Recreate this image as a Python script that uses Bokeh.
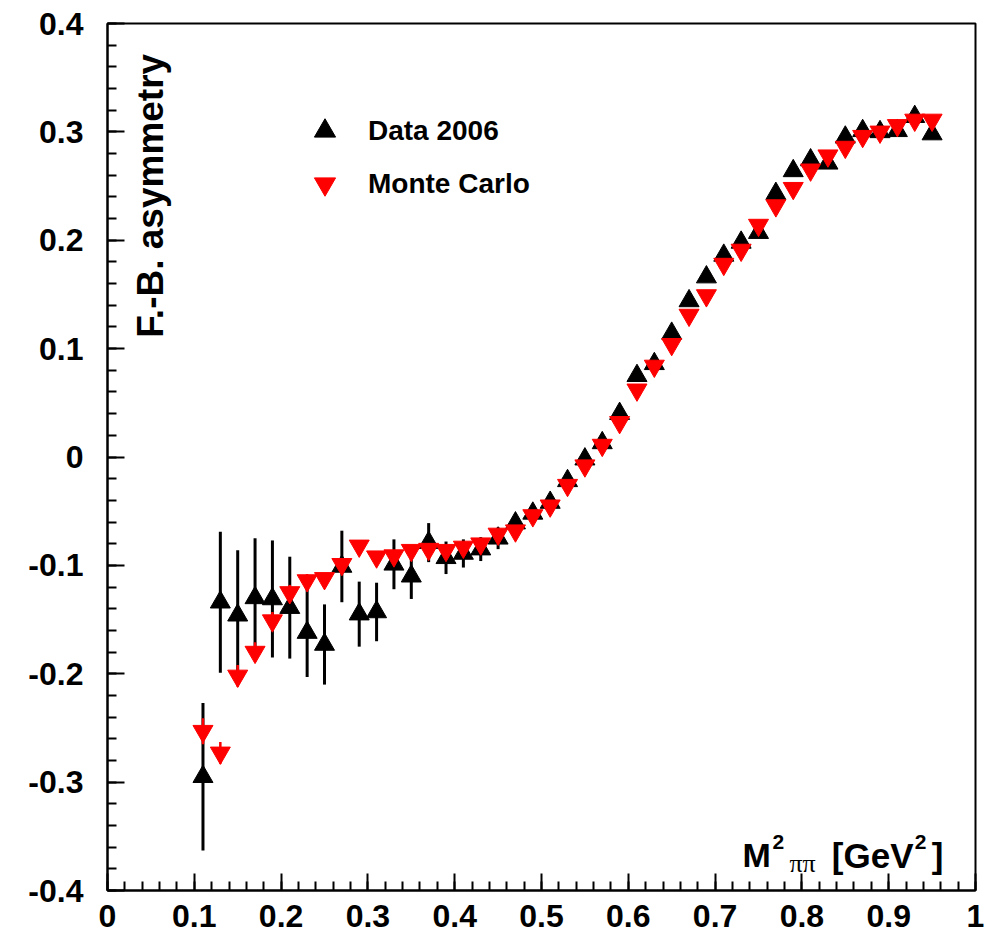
import numpy as np
from bokeh.plotting import figure
from bokeh.models import (Range1d, FixedTicker, Label, Legend, LegendItem,
                          ColumnDataSource)
from bokeh.embed import file_html
from bokeh.resources import INLINE

# Forward-backward asymmetry versus M^2(pi pi)
m2 = [0.11, 0.13, 0.15, 0.17, 0.19, 0.21, 0.23, 0.25, 0.27, 0.29, 0.31,
      0.33, 0.35, 0.37, 0.39, 0.41, 0.43, 0.45, 0.47, 0.49, 0.51, 0.53,
      0.55, 0.57, 0.59, 0.61, 0.63, 0.65, 0.67, 0.69, 0.71, 0.73, 0.75,
      0.77, 0.79, 0.81, 0.83, 0.85, 0.87, 0.89, 0.91, 0.93, 0.95]

data_asym = [-0.295, -0.134, -0.146, -0.130, -0.131, -0.139, -0.162, -0.173,
             -0.101, -0.145, -0.143, -0.099, -0.110, -0.079, -0.093, -0.089,
             -0.085, -0.075, -0.061, -0.052, -0.042, -0.022, -0.002, 0.013,
             0.040, 0.075, 0.086, 0.114, 0.144, 0.166, 0.186, 0.198, 0.207,
             0.243, 0.264, 0.274, 0.271, 0.295, 0.301, 0.300, 0.301, 0.314,
             0.298]
data_err = [0.068, 0.065, 0.060, 0.055, 0.054, 0.047, 0.041, 0.037, 0.033,
            0.030, 0.027, 0.023, 0.021, 0.018, 0.015, 0.013, 0.011, 0.010,
            0.009, 0.008, 0.007, 0.006, 0.005, 0.005, 0.005, 0.005, 0.004,
            0.004, 0.004, 0.004, 0.004, 0.004, 0.004, 0.004, 0.004, 0.004,
            0.004, 0.004, 0.004, 0.004, 0.004, 0.004, 0.004]

mc_asym = [-0.253, -0.273, -0.202, -0.180, -0.151, -0.125, -0.114, -0.112,
           -0.099, -0.082, -0.092, -0.091, -0.086, -0.085, -0.086, -0.083,
           -0.080, -0.071, -0.068, -0.054, -0.045, -0.026, -0.008, 0.011,
           0.032, 0.062, 0.084, 0.104, 0.131, 0.149, 0.178, 0.191, 0.214,
           0.232, 0.248, 0.265, 0.278, 0.286, 0.296, 0.300, 0.306, 0.311,
           0.311]
mc_err = [0.012, 0.010, 0.010, 0.009, 0.008, 0.007, 0.006, 0.005, 0.005,
          0.004, 0.004, 0.004, 0.004, 0.003, 0.003, 0.003, 0.003, 0.003,
          0.003, 0.003, 0.003, 0.003, 0.003, 0.003, 0.003, 0.003, 0.003,
          0.003, 0.003, 0.003, 0.003, 0.003, 0.003, 0.003, 0.003, 0.003,
          0.003, 0.003, 0.003, 0.003, 0.003, 0.003, 0.003]

x_ticks = [0.0, 0.1, 0.2, 0.3, 0.4, 0.5, 0.6, 0.7, 0.8, 0.9, 1.0]
x_tick_labels = ["0", "0.1", "0.2", "0.3", "0.4", "0.5", "0.6", "0.7",
                 "0.8", "0.9", "1"]
y_ticks = [-0.4, -0.3, -0.2, -0.1, 0.0, 0.1, 0.2, 0.3, 0.4]
y_tick_labels = ["-0.4", "-0.3", "-0.2", "-0.1", "0", "0.1", "0.2", "0.3",
                 "0.4"]

FONT = "Liberation Sans"

data_src = ColumnDataSource(dict(
    x=m2, y=data_asym,
    lo=[v - e for v, e in zip(data_asym, data_err)],
    hi=[v + e for v, e in zip(data_asym, data_err)]))
mc_src = ColumnDataSource(dict(
    x=m2, y=mc_asym,
    lo=[v - e for v, e in zip(mc_asym, mc_err)],
    hi=[v + e for v, e in zip(mc_asym, mc_err)]))

p = figure(frame_width=868, frame_height=867,
           min_border_left=107, min_border_right=25,
           min_border_top=23, min_border_bottom=48,
           x_range=Range1d(0, 1), y_range=Range1d(-0.4, 0.4),
           output_backend="svg", toolbar_location=None,
           background_fill_color="white", border_fill_color="white")

p.xgrid.visible = False
p.ygrid.visible = False
p.outline_line_color = "black"
p.outline_line_width = 2

p.xaxis.ticker = FixedTicker(ticks=x_ticks,
                             minor_ticks=list(np.round(np.arange(0, 1.0001, 0.02), 2)))
p.yaxis.ticker = FixedTicker(ticks=y_ticks,
                             minor_ticks=list(np.round(np.arange(-0.4, 0.4001, 0.02), 2)))
p.xaxis.major_label_overrides = dict(zip(x_ticks, x_tick_labels))
p.yaxis.major_label_overrides = dict(zip(y_ticks, y_tick_labels))

for ax in (p.xaxis, p.yaxis):
    ax.axis_line_width = 2
    ax.axis_line_color = "black"
    ax.major_tick_in = 17
    ax.major_tick_out = 0
    ax.minor_tick_in = 9
    ax.minor_tick_out = 0
    ax.major_tick_line_width = 2
    ax.minor_tick_line_width = 2
    ax.major_label_text_font = FONT
    ax.major_label_text_font_style = "bold"
    ax.major_label_text_font_size = "32px"
    ax.major_label_text_color = "black"
p.yaxis.major_label_standoff = 24
p.xaxis.major_label_standoff = 14

# error bars and markers: data first, Monte Carlo on top
p.segment(x0="x", y0="lo", x1="x", y1="hi", source=data_src,
          line_color="black", line_width=3)
r_data = p.scatter(x="x", y="y", source=data_src, marker="triangle",
                   size=20, fill_color="black", line_color="black")
p.segment(x0="x", y0="lo", x1="x", y1="hi", source=mc_src,
          line_color="red", line_width=2.5)
r_mc = p.scatter(x="x", y="y", source=mc_src, marker="inverted_triangle",
                 size=20, fill_color="red", line_color="red")

legend = Legend(items=[LegendItem(label="Data 2006", renderers=[r_data]),
                       LegendItem(label="Monte Carlo", renderers=[r_mc])],
                location=(190, 680), orientation="vertical",
                glyph_width=55, glyph_height=53, spacing=0, padding=0,
                margin=0, label_standoff=16, label_height=53,
                label_text_font=FONT, label_text_font_style="bold",
                label_text_font_size="28px", label_text_color="black",
                border_line_color=None, background_fill_alpha=0)
p.add_layout(legend)

# y title inside the frame
p.add_layout(Label(x=0.0495, y=0.372, text="F.-B. asymmetry", angle=np.pi / 2,
                   text_align="right", text_baseline="alphabetic",
                   text_font=FONT, text_font_style="bold",
                   text_font_size="37px", text_color="black"))

# x title: M^2_{pi pi} [GeV^2]
def piece(x, y, text, size, font=FONT, style="bold", align="left"):
    p.add_layout(Label(x=x, y=y, text=text, text_align=align,
                       text_baseline="alphabetic", text_font=font,
                       text_font_style=style, text_font_size=size,
                       text_color="black"))

piece(0.7315, -0.3676, "M", "34px")
piece(0.7661, -0.3556, "2", "21px")
piece(0.7857, -0.3750, "ππ", "26px", font="Liberation Serif", style="normal")
piece(0.9286, -0.3676, "[GeV", "35px", align="right")
piece(0.9300, -0.3556, "2", "21px")
piece(0.9495, -0.3676, "]", "35px")

open("out.html", "w").write(file_html(p, INLINE))
